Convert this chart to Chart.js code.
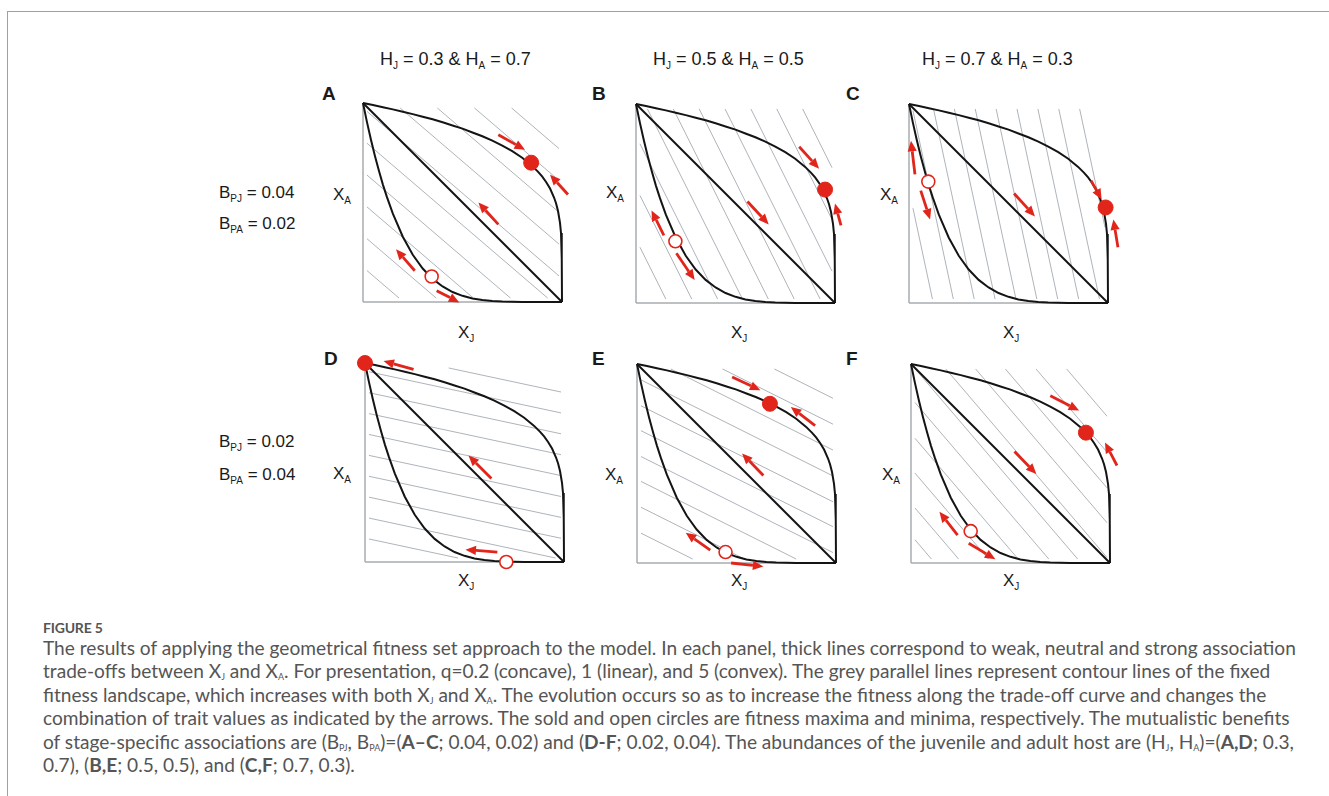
<!DOCTYPE html>
<html>
<head>
<meta charset="utf-8">
<script src="https://cdn.jsdelivr.net/npm/chart.js@4.4.1/dist/chart.umd.min.js"></script>
<style>
body { margin: 0; background: #fff; width: 1329px; height: 796px; position: relative; overflow: hidden;
       font-family: "Liberation Sans", Arial, sans-serif; color: #1a1a1a; }
.frame { position: absolute; left: 7px; top: 11px; width: 1400px; height: 900px;
         border-top: 1px solid #a0a0a0; border-left: 1px solid #a0a0a0; }
.t { position: absolute; font-size: 17px; line-height: 17px; white-space: nowrap; }
.t sub { font-size: 10px; vertical-align: -4px; line-height: 0; }
.hd { font-size: 18px; line-height: 18px; }
.lbl { font-weight: bold; font-size: 19px; line-height: 19px; }
canvas { position: absolute; }
.capt { position: absolute; left: 43px; font-family: Lato, "Open Sans", sans-serif; color: #555; white-space: nowrap; }
.fig { top: 619px; font-size: 14px; font-weight: bold; letter-spacing: -0.2px; }
.body { top: 636px; font-size: 16px; line-height: 23.4px; }
.body sub { font-size: 9px; vertical-align: -2px; line-height: 0; }
.body span { display: block; }
</style>
</head>
<body>
<div class="frame"></div>

<div class="t hd" style="left:380px;top:50px">H<sub>J</sub> = 0.3 &amp; H<sub>A</sub> = 0.7</div>
<div class="t hd" style="left:653px;top:50px">H<sub>J</sub> = 0.5 &amp; H<sub>A</sub> = 0.5</div>
<div class="t hd" style="left:922px;top:50px">H<sub>J</sub> = 0.7 &amp; H<sub>A</sub> = 0.3</div>

<div class="t lbl" style="left:322px;top:84px">A</div>
<div class="t lbl" style="left:592px;top:84px">B</div>
<div class="t lbl" style="left:846px;top:84px">C</div>
<div class="t lbl" style="left:324px;top:349px">D</div>
<div class="t lbl" style="left:592px;top:349px">E</div>
<div class="t lbl" style="left:846px;top:349px">F</div>

<div class="t" style="left:219px;top:184px">B<sub>PJ</sub> = 0.04</div>
<div class="t" style="left:219px;top:215px">B<sub>PA</sub> = 0.02</div>
<div class="t" style="left:219px;top:433px">B<sub>PJ</sub> = 0.02</div>
<div class="t" style="left:219px;top:466px">B<sub>PA</sub> = 0.04</div>

<div class="t" style="left:333px;top:186px">X<sub>A</sub></div>
<div class="t" style="left:606px;top:184px">X<sub>A</sub></div>
<div class="t" style="left:880px;top:186px">X<sub>A</sub></div>
<div class="t" style="left:333px;top:465px">X<sub>A</sub></div>
<div class="t" style="left:605px;top:466px">X<sub>A</sub></div>
<div class="t" style="left:882px;top:466px">X<sub>A</sub></div>

<div class="t" style="left:458px;top:324px">X<sub>J</sub></div>
<div class="t" style="left:731px;top:324px">X<sub>J</sub></div>
<div class="t" style="left:1003px;top:324px">X<sub>J</sub></div>
<div class="t" style="left:458px;top:572px">X<sub>J</sub></div>
<div class="t" style="left:731px;top:572px">X<sub>J</sub></div>
<div class="t" style="left:1003px;top:572px">X<sub>J</sub></div>

<canvas id="pA" width="270" height="270"></canvas>
<canvas id="pB" width="270" height="270"></canvas>
<canvas id="pC" width="270" height="270"></canvas>
<canvas id="pD" width="270" height="270"></canvas>
<canvas id="pE" width="270" height="270"></canvas>
<canvas id="pF" width="270" height="270"></canvas>

<div class="capt fig">FIGURE 5</div>
<div class="capt body" id="caption">
<span id="capLine1">The results of applying the geometrical fitness set approach to the model. In each panel, thick lines correspond to weak, neutral and strong association</span>
<span>trade-offs between X<sub>J</sub> and X<sub>A</sub>. For presentation, q=0.2 (concave), 1 (linear), and 5 (convex). The grey parallel lines represent contour lines of the fixed</span>
<span>fitness landscape, which increases with both X<sub>J</sub> and X<sub>A</sub>. The evolution occurs so as to increase the fitness along the trade-off curve and changes the</span>
<span>combination of trait values as indicated by the arrows. The sold and open circles are fitness maxima and minima, respectively. The mutualistic benefits</span>
<span>of stage-specific associations are (B<sub>PJ</sub>, B<sub>PA</sub>)=(<b>A–C</b>; 0.04, 0.02) and (<b>D-F</b>; 0.02, 0.04). The abundances of the juvenile and adult host are (H<sub>J</sub>, H<sub>A</sub>)=(<b>A,D</b>; 0.3,</span>
<span>0.7), (<b>B,E</b>; 0.5, 0.5), and (<b>C,F</b>; 0.7, 0.3).</span>
</div>

<script>
// trade-off curves (X_J, X_A), same in every panel
var convexX = [0, 0.05, 0.1, 0.15, 0.2, 0.25, 0.3, 0.35, 0.4, 0.45, 0.5, 0.55, 0.6, 0.65, 0.7, 0.75, 0.8, 0.85, 0.88, 0.9, 0.92, 0.94, 0.96, 0.97, 0.98, 0.99, 0.995, 0.998, 0.9995, 1];
var convexY = [1, 0.990, 0.979, 0.968, 0.956, 0.944, 0.931, 0.918, 0.903, 0.887, 0.871, 0.852, 0.833, 0.811, 0.786, 0.758, 0.725, 0.684, 0.654, 0.631, 0.603, 0.570, 0.525, 0.496, 0.457, 0.398, 0.347, 0.289, 0.219, 0];
var concaveX = [0, 0.02, 0.04, 0.06, 0.08, 0.1, 0.12, 0.15, 0.2, 0.25, 0.3, 0.35, 0.4, 0.45, 0.5, 0.55, 0.6, 0.65, 0.7, 0.8, 0.9, 1];
var concaveY = [1, 0.904, 0.815, 0.734, 0.659, 0.590, 0.528, 0.444, 0.328, 0.237, 0.168, 0.116, 0.078, 0.050, 0.031, 0.018, 0.010, 0.005, 0.002, 0.0003, 0, 0];
var linearX = [0, 1];
var linearY = [1, 0];

// fitness contours: x_A = level - slope * x_J
var contourSlope = [0.857, 2.0, 4.67, 0.214, 0.5, 1.17];
var contourLevels = [
  [0.175, 0.335, 0.495, 0.655, 0.815, 0.975, 1.135, 1.295, 1.455, 1.615],
  [0.32, 0.58, 0.84, 1.09, 1.35, 1.61, 1.87, 2.13, 2.39, 2.65],
  [0.57, 1.06, 1.55, 2.04, 2.53, 3.02, 3.51, 4.0, 4.49, 4.98],
  [0.12, 0.225, 0.33, 0.435, 0.54, 0.645, 0.75, 0.855, 0.96, 1.065],
  [0.16, 0.29, 0.42, 0.545, 0.675, 0.80, 0.93, 1.06, 1.19, 1.32],
  [0.14, 0.30, 0.475, 0.65, 0.83, 1.0, 1.18, 1.355, 1.53, 1.71, 1.89]
];

// fitness maxima (solid) and minima (open)
var maxPoints = [[0.845, 0.70], [0.95, 0.57], [0.988, 0.48], [0, 1], [0.668, 0.80], [0.879, 0.655]];
var minPoints = [[0.345, 0.128], [0.198, 0.31], [0.097, 0.61], [0.71, 0], [0.445, 0.055], [0.30, 0.16]];

// arrows: tail x, tail y, head x, head y
var arrowsA = [[0.68, 0.84, 0.814, 0.765], [1.03, 0.54, 0.94, 0.64], [0.68, 0.39, 0.58, 0.50], [0.26, 0.157, 0.166, 0.265], [0.37, 0.057, 0.484, -0.002]];
var arrowsB = [[0.82, 0.785, 0.92, 0.675], [1.03, 0.39, 1.0, 0.50], [0.56, 0.51, 0.667, 0.395], [0.14, 0.34, 0.078, 0.465], [0.203, 0.25, 0.295, 0.115]];
var arrowsC = [[0.915, 0.615, 0.968, 0.52], [1.05, 0.28, 1.027, 0.42], [0.528, 0.55, 0.633, 0.435], [0.03, 0.646, 0.01, 0.815], [0.059, 0.565, 0.106, 0.42]];
var arrowsD = [[0.244, 0.968, 0.093, 1.01], [0.635, 0.42, 0.52, 0.535], [0.665, 0.05, 0.505, 0.062]];
var arrowsE = [[0.478, 0.935, 0.62, 0.868], [0.895, 0.69, 0.773, 0.784], [0.635, 0.44, 0.528, 0.55], [0.368, 0.065, 0.245, 0.152], [0.473, 0.0, 0.635, -0.018]];
var arrowsF = [[0.70, 0.84, 0.845, 0.766], [1.035, 0.49, 0.975, 0.605], [0.52, 0.56, 0.63, 0.447], [0.234, 0.14, 0.143, 0.257], [0.29, 0.099, 0.424, 0.019]];
var panelArrows = [arrowsA, arrowsB, arrowsC, arrowsD, arrowsE, arrowsF];

// layout
var panelIds = ['pA', 'pB', 'pC', 'pD', 'pE', 'pF'];
var boxLeft = [363, 636, 909, 365, 637, 911];
var boxTop = [103, 104, 104, 363, 364, 364];
var BOX = 199, PAD = 35, SIZE = 270;
var RED = '#e1251b';

function pts(xs, ys) {
  return xs.map(function (x, i) { return { x: x, y: ys[i] }; });
}

function contourSegment(s, c) {
  var xl = 0.02, xr = 0.985, yb = 0.02, yt = 0.975;
  var x0 = Math.max(xl, (c - yt) / s);
  var x1 = Math.min(xr, (c - yb) / s);
  if (x1 <= x0) return null;
  return [{ x: x0, y: c - s * x0 }, { x: x1, y: c - s * x1 }];
}

// draws arrow shaft + head from the two points of datasets flagged arrow
var arrowHeads = {
  id: 'arrowHeads',
  afterDatasetsDraw: function (chart) {
    var ctx = chart.ctx;
    chart.data.datasets.forEach(function (ds, i) {
      if (!ds.arrow) return;
      var p = chart.getDatasetMeta(i).data;
      var a = p[0], b = p[1];
      var ang = Math.atan2(b.y - a.y, b.x - a.x);
      var len = 10.5, half = 4.6;
      var bx = b.x - len * Math.cos(ang), by = b.y - len * Math.sin(ang);
      ctx.save();
      ctx.strokeStyle = ds.borderColor;
      ctx.fillStyle = ds.borderColor;
      ctx.lineWidth = 2.8;
      ctx.beginPath();
      ctx.moveTo(a.x, a.y);
      ctx.lineTo(bx, by);
      ctx.stroke();
      ctx.beginPath();
      ctx.moveTo(b.x, b.y);
      ctx.lineTo(bx - half * Math.sin(ang), by + half * Math.cos(ang));
      ctx.lineTo(bx + half * Math.sin(ang), by - half * Math.cos(ang));
      ctx.closePath();
      ctx.fill();
      ctx.restore();
    });
  }
};

function lineSet(data, color, width, order) {
  return { data: data, showLine: true, borderColor: color, borderWidth: width,
           pointRadius: 0, tension: 0, clip: false, order: order };
}

panelIds.forEach(function (id, k) {
  var cv = document.getElementById(id);
  cv.style.left = (boxLeft[k] - PAD) + 'px';
  cv.style.top = (boxTop[k] - PAD) + 'px';

  var datasets = [];
  // circles
  datasets.push({ data: [{ x: maxPoints[k][0], y: maxPoints[k][1] }], pointRadius: 7.5,
                  pointBackgroundColor: RED, pointBorderColor: RED, pointBorderWidth: 1,
                  clip: false, order: 0 });
  datasets.push({ data: [{ x: minPoints[k][0], y: minPoints[k][1] }], pointRadius: 6.5,
                  pointBackgroundColor: '#fff', pointBorderColor: RED, pointBorderWidth: 1.6,
                  clip: false, order: 0 });
  // arrows
  panelArrows[k].forEach(function (a) {
    datasets.push({ data: [{ x: a[0], y: a[1] }, { x: a[2], y: a[3] }], arrow: true,
                    borderColor: RED, pointRadius: 0, showLine: false, clip: false, order: 1 });
  });
  // trade-off curves
  datasets.push(lineSet(pts(convexX, convexY), '#141414', 2, 2));
  datasets.push(lineSet(pts(linearX, linearY), '#141414', 2, 2));
  datasets.push(lineSet(pts(concaveX, concaveY), '#141414', 2, 2));
  // axes
  datasets.push(lineSet([{ x: 0, y: 0 }, { x: 0, y: 1 }], '#a9adb1', 1.5, 3));
  datasets.push(lineSet([{ x: 0, y: 0 }, { x: 1, y: 0 }], '#a9adb1', 1.5, 3));
  // contours
  contourLevels[k].forEach(function (c) {
    var seg = contourSegment(contourSlope[k], c);
    if (seg) datasets.push(lineSet(seg, '#a4abb3', 0.9, 4));
  });

  new Chart(cv, {
    type: 'scatter',
    data: { datasets: datasets },
    options: {
      responsive: false,
      animation: false,
      devicePixelRatio: 1,
      events: [],
      layout: { padding: { left: PAD, top: PAD, right: SIZE - PAD - BOX, bottom: SIZE - PAD - BOX } },
      scales: {
        x: { type: 'linear', min: 0, max: 1, display: false },
        y: { type: 'linear', min: 0, max: 1, display: false }
      },
      plugins: { legend: { display: false }, tooltip: { enabled: false } }
    },
    plugins: [arrowHeads]
  });
});

// fit caption font so the first line spans the same width as in the figure
var cap = document.getElementById('caption');
var first = document.getElementById('capLine1');
first.style.display = 'inline';
var w = first.getBoundingClientRect().width;
first.style.display = 'block';
cap.style.fontSize = (16 * 1253 / w).toFixed(2) + 'px';
</script>
</body>
</html>
